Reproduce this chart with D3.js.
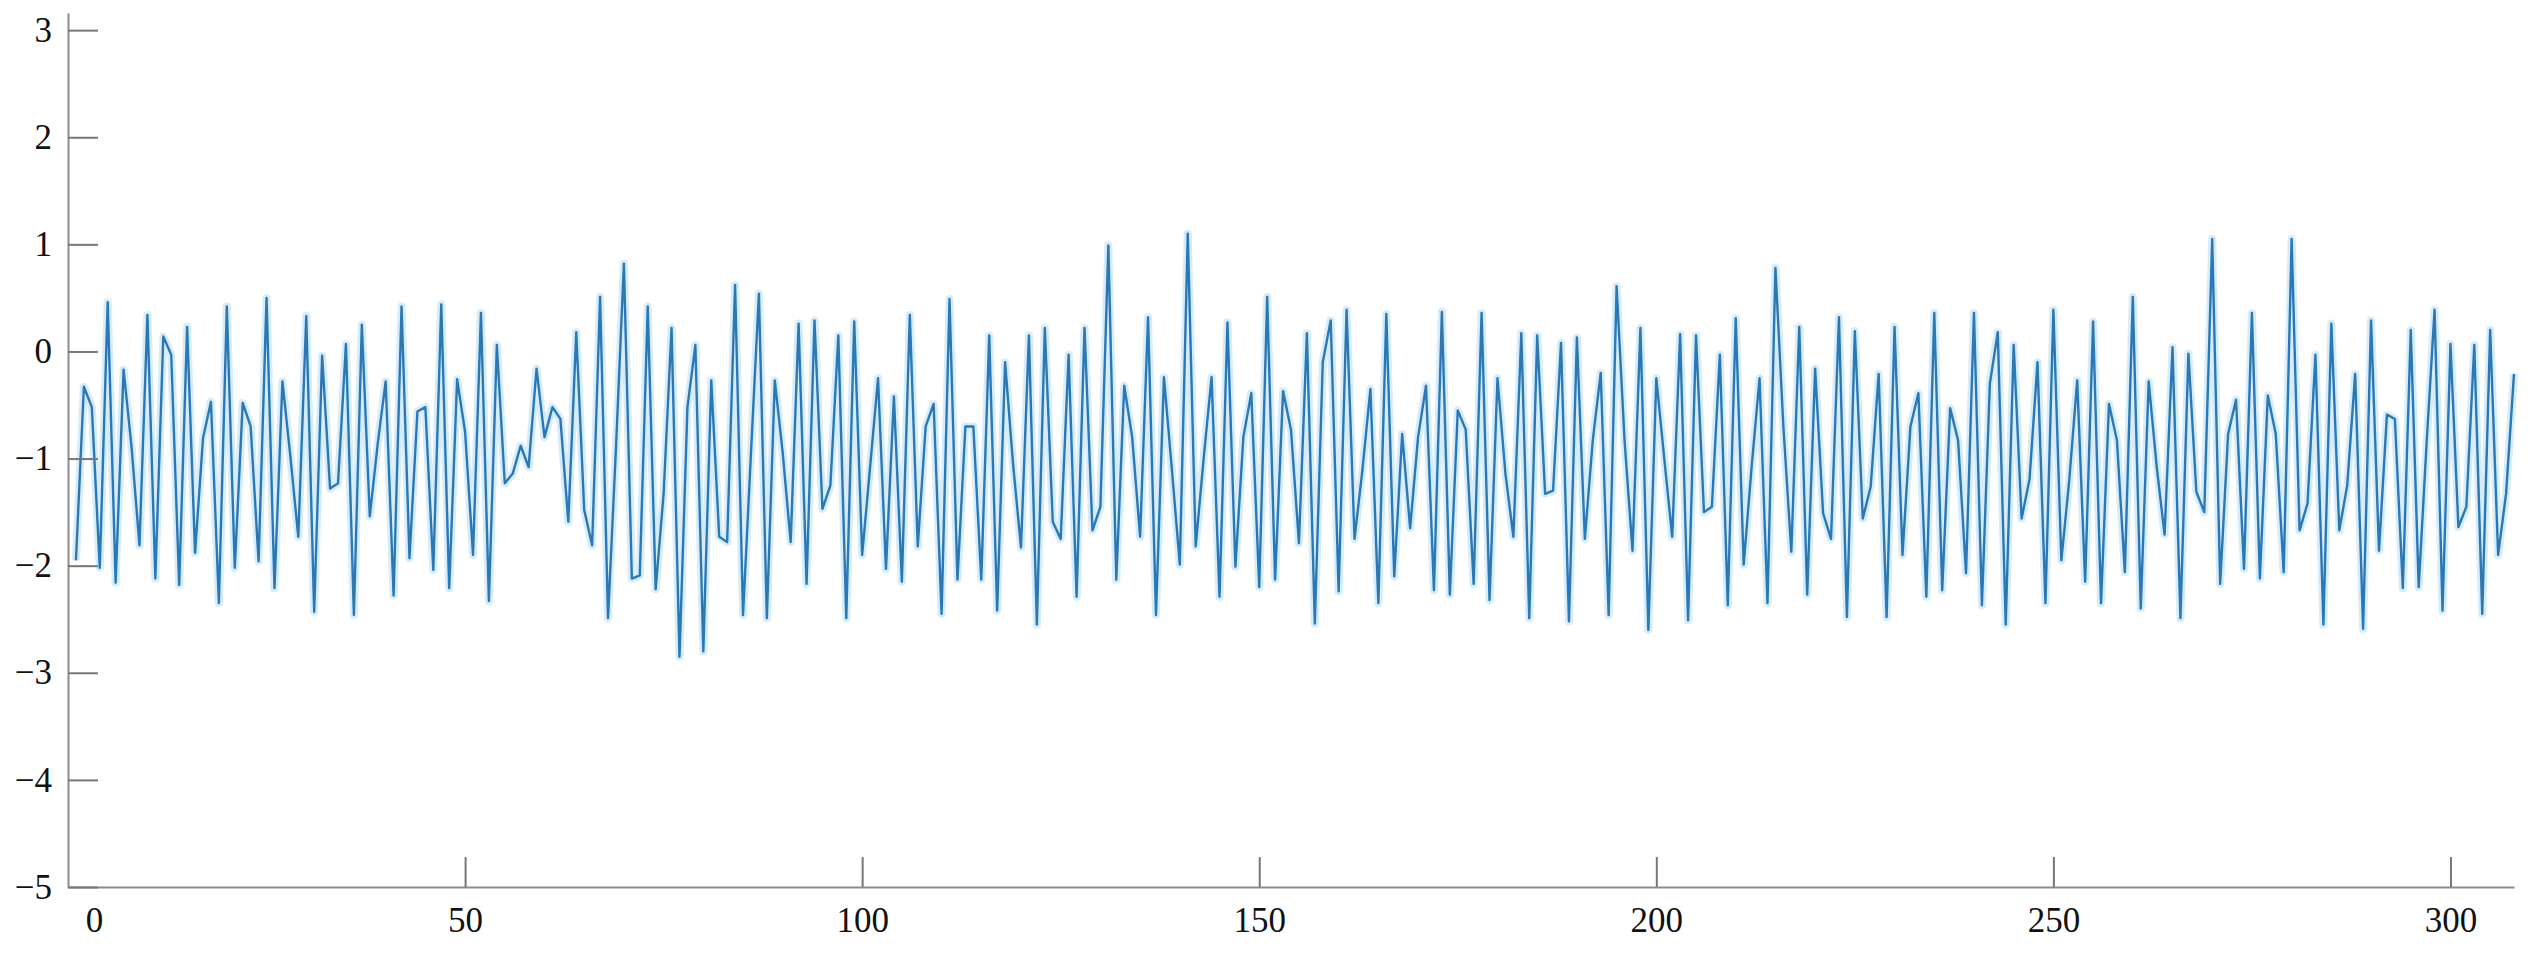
<!DOCTYPE html>
<html>
<head>
<meta charset="utf-8">
<script src="https://cdn.jsdelivr.net/npm/d3@7"></script>
<style>
	body { margin: 0; background: #fff; }
	svg { display: block; }
	.tick text { font-family: "Liberation Serif", "Times New Roman", serif; font-size: 35px; fill: #111; }
</style>
</head>
<body>
<svg></svg>
<script>
// signal samples, one per step starting at x = 1
var signal = [
	-1.95, -0.33, -0.52, -2.02, 0.46, -2.16, -0.17, -0.89, -1.81, 0.34,
	-2.12, 0.14, -0.03, -2.18, 0.23, -1.88, -0.81, -0.47, -2.35, 0.42,
	-2.02, -0.48, -0.70, -1.96, 0.50, -2.21, -0.28, -0.98, -1.73, 0.33,
	-2.43, -0.04, -1.28, -1.23, 0.07, -2.46, 0.25, -1.54, -0.86, -0.28,
	-2.28, 0.42, -1.93, -0.56, -0.52, -2.04, 0.44, -2.21, -0.26, -0.75,
	-1.90, 0.36, -2.33, 0.06, -1.23, -1.14, -0.88, -1.08, -0.16, -0.80,
	-0.52, -0.63, -1.59, 0.18, -1.48, -1.81, 0.51, -2.49, -0.90, 0.82,
	-2.12, -2.09, 0.42, -2.22, -1.33, 0.22, -2.85, -0.52, 0.06, -2.80,
	-0.27, -1.73, -1.78, 0.62, -2.46, -0.95, 0.54, -2.49, -0.27, -0.95,
	-1.78, 0.26, -2.17, 0.29, -1.47, -1.25, 0.15, -2.49, 0.28, -1.90,
	-1.08, -0.25, -2.03, -0.42, -2.15, 0.34, -1.82, -0.70, -0.49, -2.45,
	0.49, -2.13, -0.70, -0.70, -2.13, 0.15, -2.42, -0.10, -1.05, -1.83,
	0.15, -2.55, 0.22, -1.59, -1.75, -0.03, -2.29, 0.22, -1.67, -1.45,
	0.99, -2.13, -0.32, -0.80, -1.73, 0.32, -2.46, -0.24, -1.10, -1.99,
	1.10, -1.82, -1.00, -0.24, -2.29, 0.27, -2.01, -0.80, -0.39, -2.20,
	0.51, -2.13, -0.37, -0.73, -1.79, 0.17, -2.54, -0.10, 0.29, -2.24,
	0.39, -1.75, -1.10, -0.35, -2.35, 0.35, -2.10, -0.77, -1.65, -0.80,
	-0.32, -2.23, 0.37, -2.27, -0.55, -0.73, -2.17, 0.36, -2.32, -0.25,
	-1.14, -1.73, 0.17, -2.49, 0.15, -1.33, -1.30, 0.08, -2.52, 0.13,
	-1.75, -0.83, -0.20, -2.46, 0.61, -0.83, -1.86, 0.22, -2.60, -0.25,
	-1.00, -1.73, 0.16, -2.51, 0.15, -1.50, -1.45, -0.03, -2.37, 0.31,
	-1.99, -1.08, -0.25, -2.35, 0.78, -0.70, -1.87, 0.23, -2.27, -0.16,
	-1.51, -1.75, 0.32, -2.48, 0.19, -1.56, -1.26, -0.21, -2.48, 0.23,
	-1.90, -0.70, -0.39, -2.29, 0.36, -2.23, -0.53, -0.83, -2.07, 0.36,
	-2.37, -0.30, 0.18, -2.55, 0.06, -1.56, -1.19, -0.10, -2.35, 0.39,
	-1.95, -1.20, -0.27, -2.15, 0.28, -2.35, -0.49, -0.83, -2.06, 0.51,
	-2.40, -0.28, -1.07, -1.71, 0.04, -2.49, -0.02, -1.31, -1.50, 1.05,
	-2.17, -0.77, -0.45, -2.03, 0.36, -2.12, -0.41, -0.77, -2.06, 1.05,
	-1.67, -1.42, -0.03, -2.55, 0.26, -1.67, -1.25, -0.21, -2.59, 0.29,
	-1.86, -0.59, -0.63, -2.21, 0.20, -2.20, -0.85, 0.39, -2.42, 0.07,
	-1.64, -1.45, 0.06, -2.45, 0.20, -1.90, -1.33, -0.21
];
var xStart = 1;
var xTicks = [0, 50, 100, 150, 200, 250, 300];
var yTicks = [-5, -4, -3, -2, -1, 0, 1, 2, 3];

var width = 2534, height = 953;

function SignalPlot(values){
	this.values = values;
	this.xdomain = [0, 308];
	this.ydomain = [-5, 3.16];
}

SignalPlot.prototype.draw = function(){
	var svg = d3.select('svg')
		.attr("width", width)
		.attr("height", height);

	var x = d3.scaleLinear().domain(this.xdomain).range([68, 2514]);
	var y = d3.scaleLinear().domain(this.ydomain).range([887, 13]);

	var pts = this.values.map(function(v, i){ return {x: i + xStart, y: v}; });

	var line = d3.line()
		.x(function(d){ return x(d.x); })
		.y(function(d){ return y(d.y); });

	// soft halo under the trace
	svg.append("path")
		.datum(pts)
		.attr("fill", "none")
		.attr("stroke", "#c4e6f7")
		.attr("stroke-width", 8)
		.attr("stroke-linejoin", "round")
		.attr("opacity", 0.7)
		.attr("d", line);

	svg.append("path")
		.datum(pts)
		.attr("fill", "none")
		.attr("stroke", "#2a78b6")
		.attr("stroke-width", 2.4)
		.attr("stroke-linejoin", "round")
		.attr("d", line);

	var xAxis = svg.append("g")
		.attr("transform", "translate(0," + y(-5) + ")")
		.call(d3.axisBottom(x).tickValues(xTicks).tickSize(-30).tickPadding(20).tickSizeOuter(0));

	var yAxis = svg.append("g")
		.attr("transform", "translate(" + x(0) + ",0)")
		.call(d3.axisLeft(y).tickValues(yTicks).tickSize(-30).tickPadding(16).tickSizeOuter(0));

	[xAxis, yAxis].forEach(function(g){
		g.select(".domain").attr("stroke", "#8c8c8c").attr("stroke-width", 2);
		g.selectAll(".tick line").attr("stroke", "#777").attr("stroke-width", 2);
	});

	// the 0 label sits right of the corner in the original
	xAxis.selectAll(".tick").filter(function(d){ return d === 0; })
		.select("line").remove();
	xAxis.selectAll(".tick text").filter(function(d){ return d === 0; })
		.attr("dx", 26);
};

var plot = new SignalPlot(signal);
plot.draw();
</script>
</body>
</html>
